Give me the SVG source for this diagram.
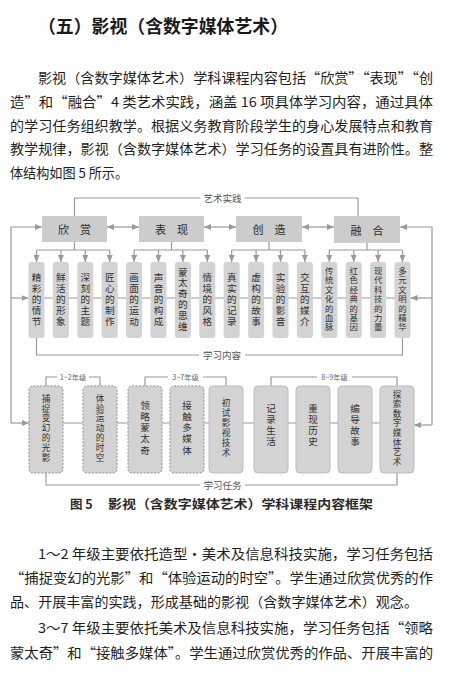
<svg xmlns="http://www.w3.org/2000/svg" width="468" height="682" viewBox="0 0 468 682">
<style>
.bg{fill:#ffffff}
.body{font-family:"Noto Sans CJK SC","Noto Sans",sans-serif;font-size:13.4px;fill:#1e1e1e;dominant-baseline:central}
.title{font-family:"Noto Sans CJK SC",sans-serif;font-size:18px;font-weight:bold;fill:#1a1a1a;dominant-baseline:central}
.cap{font-family:"Noto Sans CJK SC",sans-serif;font-size:12.5px;font-weight:bold;fill:#2a2a2a;dominant-baseline:central}
.cat rect{fill:#cccccc;stroke:none}
.cat text{font-family:"Noto Sans CJK SC",sans-serif;font-size:11px;fill:#2a2a2a;text-anchor:middle;dominant-baseline:central}
.item rect{fill:#d3d3d3;stroke:none}
.item text{font-family:"Liberation Sans","Noto Sans CJK SC",sans-serif;font-size:9.6px;fill:#2f2f2f;text-anchor:middle}
.item text.s{font-size:8.4px}
.task rect{fill:#d3d3d3;stroke:#bdbdbd;stroke-width:1}
.task.d rect{stroke:#8f8f8f;stroke-dasharray:2 1.5}
.task text{font-family:"Liberation Sans","Noto Sans CJK SC",sans-serif;font-size:9.6px;fill:#2f2f2f;text-anchor:middle}
.task text.s{font-size:8.6px}
.ln{fill:none;stroke:#9a9a9a;stroke-width:1.2}
.lab{font-family:"Noto Sans CJK SC",sans-serif;font-size:9.5px;fill:#555;text-anchor:middle;dominant-baseline:central}
.gl{font-family:"Noto Sans CJK SC",sans-serif;font-size:7.2px;fill:#666;text-anchor:middle;dominant-baseline:central}
</style>
<defs>
<marker id="ah" markerUnits="userSpaceOnUse" markerWidth="7" markerHeight="6" refX="7" refY="3" orient="auto-start-reverse">
<path d="M0,0 L7,3 L0,6 z" fill="#9a9a9a"/>
</marker>
</defs>
<rect class="bg" x="0" y="0" width="468" height="682"/>

<g id="text-top">
<text class="title" x="38" y="25" textLength="250" lengthAdjust="spacingAndGlyphs">（五）影视（含数字媒体艺术）</text>
<text class="body" x="38" y="77" textLength="395" lengthAdjust="spacingAndGlyphs">影视（含数字媒体艺术）学科课程内容包括“欣赏”“表现”“创</text>
<text class="body" x="10" y="101" textLength="423" lengthAdjust="spacingAndGlyphs">造”和“融合”4 类艺术实践，涵盖 16 项具体学习内容，通过具体</text>
<text class="body" x="10" y="125" textLength="423" lengthAdjust="spacingAndGlyphs">的学习任务组织教学。根据义务教育阶段学生的身心发展特点和教育</text>
<text class="body" x="10" y="148" textLength="423" lengthAdjust="spacingAndGlyphs">教学规律，影视（含数字媒体艺术）学习任务的设置具有进阶性。整</text>
<text class="body" x="10" y="172" textLength="118" lengthAdjust="spacingAndGlyphs">体结构如图 5 所示。</text>
</g>

<g id="connectors">
<path class="ln" d="M74.5,216 V198 H200"/>
<path class="ln" d="M245,198 H358 V216"/>
<path class="ln" d="M107,227 H139" marker-start="url(#ah)" marker-end="url(#ah)"/>
<path class="ln" d="M204,227 H236" marker-start="url(#ah)" marker-end="url(#ah)"/>
<path class="ln" d="M302,227 H334" marker-start="url(#ah)" marker-end="url(#ah)"/>
<path class="ln" d="M11,423 V227 H42" marker-end="url(#ah)"/>
<path class="ln" d="M11,298 H28.5" marker-end="url(#ah)"/>
<path class="ln" d="M11,423 H29" marker-end="url(#ah)"/>
<path class="ln" d="M432,425 V227 H400" marker-end="url(#ah)"/>
<path class="ln" d="M432,298 H410.5" marker-end="url(#ah)"/>
<path class="ln" d="M432,425 H414" marker-end="url(#ah)"/>
<path class="ln" d="M36,298 H403"/>
<path class="ln" d="M46,423 H397"/>
<path class="ln" d="M74.5,242 V250 M36.5,250 H109.7"/>
<path class="ln" d="M36.5,250 V262" marker-end="url(#ah)"/>
<path class="ln" d="M60.9,250 V262" marker-end="url(#ah)"/>
<path class="ln" d="M85.3,250 V262" marker-end="url(#ah)"/>
<path class="ln" d="M109.7,250 V262" marker-end="url(#ah)"/>
<path class="ln" d="M171.5,242 V250 M134.1,250 H207.3"/>
<path class="ln" d="M134.1,250 V262" marker-end="url(#ah)"/>
<path class="ln" d="M158.5,250 V262" marker-end="url(#ah)"/>
<path class="ln" d="M182.9,250 V262" marker-end="url(#ah)"/>
<path class="ln" d="M207.3,250 V262" marker-end="url(#ah)"/>
<path class="ln" d="M269,242 V250 M231.7,250 H304.9"/>
<path class="ln" d="M231.7,250 V262" marker-end="url(#ah)"/>
<path class="ln" d="M256.1,250 V262" marker-end="url(#ah)"/>
<path class="ln" d="M280.5,250 V262" marker-end="url(#ah)"/>
<path class="ln" d="M304.9,250 V262" marker-end="url(#ah)"/>
<path class="ln" d="M367,243 V250 M329.3,250 H402.5"/>
<path class="ln" d="M329.3,250 V262" marker-end="url(#ah)"/>
<path class="ln" d="M353.7,250 V262" marker-end="url(#ah)"/>
<path class="ln" d="M378.1,250 V262" marker-end="url(#ah)"/>
<path class="ln" d="M402.5,250 V262" marker-end="url(#ah)"/>
<path class="ln" d="M36.5,338 V355 H199"/>
<path class="ln" d="M245,355 H402.5 V338"/>
<path class="ln" d="M46,473 V485 H200"/>
<path class="ln" d="M245,485 H397 V473"/>
<path class="ln" d="M46,386 V377 H57 M89,377 H100 V386"/>
<path class="ln" d="M145,386 V377 H168 M203,377 H226 V386"/>
<path class="ln" d="M271,386 V377 H317 M352,377 H397 V386"/>
<text class="lab" x="222.5" y="198">艺术实践</text>
<text class="lab" x="222" y="355">学习内容</text>
<text class="lab" x="222.5" y="485">学习任务</text>
<text class="gl" x="73" y="377">1~2年级</text>
<text class="gl" x="185.5" y="377">3~7年级</text>
<text class="gl" x="334.5" y="377">8~9年级</text>
</g>

<g id="cat-xinshang" class="cat"><rect x="42" y="216" width="65" height="26"/><text x="74.5" y="229">欣　赏</text></g>
<g id="cat-biaoxian" class="cat"><rect x="139" y="216" width="65" height="26"/><text x="171.5" y="229">表　现</text></g>
<g id="cat-chuangzao" class="cat"><rect x="236" y="216" width="66" height="26"/><text x="269" y="229">创　造</text></g>
<g id="cat-ronghe" class="cat"><rect x="334" y="216" width="66" height="27"/><text x="367" y="229.5">融　合</text></g>

<g id="c1" class="item"><rect x="28.5" y="262" width="16" height="76" rx="3"/><text x="36.5" y="280.5"><tspan x="36.5">精</tspan><tspan x="36.5" dy="11">彩</tspan><tspan x="36.5" dy="11">的</tspan><tspan x="36.5" dy="11">情</tspan><tspan x="36.5" dy="11">节</tspan></text></g>
<g id="c2" class="item"><rect x="52.9" y="262" width="16" height="76" rx="3"/><text x="60.9" y="280.5"><tspan x="60.9">鲜</tspan><tspan x="60.9" dy="11">活</tspan><tspan x="60.9" dy="11">的</tspan><tspan x="60.9" dy="11">形</tspan><tspan x="60.9" dy="11">象</tspan></text></g>
<g id="c3" class="item"><rect x="77.3" y="262" width="16" height="76" rx="3"/><text x="85.3" y="280.5"><tspan x="85.3">深</tspan><tspan x="85.3" dy="11">刻</tspan><tspan x="85.3" dy="11">的</tspan><tspan x="85.3" dy="11">主</tspan><tspan x="85.3" dy="11">题</tspan></text></g>
<g id="c4" class="item"><rect x="101.7" y="262" width="16" height="76" rx="3"/><text x="109.7" y="280.5"><tspan x="109.7">匠</tspan><tspan x="109.7" dy="11">心</tspan><tspan x="109.7" dy="11">的</tspan><tspan x="109.7" dy="11">制</tspan><tspan x="109.7" dy="11">作</tspan></text></g>
<g id="c5" class="item"><rect x="126.1" y="262" width="16" height="76" rx="3"/><text x="134.1" y="280.5"><tspan x="134.1">画</tspan><tspan x="134.1" dy="11">面</tspan><tspan x="134.1" dy="11">的</tspan><tspan x="134.1" dy="11">运</tspan><tspan x="134.1" dy="11">动</tspan></text></g>
<g id="c6" class="item"><rect x="150.5" y="262" width="16" height="76" rx="3"/><text x="158.5" y="280.5"><tspan x="158.5">声</tspan><tspan x="158.5" dy="11">音</tspan><tspan x="158.5" dy="11">的</tspan><tspan x="158.5" dy="11">构</tspan><tspan x="158.5" dy="11">成</tspan></text></g>
<g id="c7" class="item"><rect x="174.9" y="262" width="16" height="76" rx="3"/><text x="182.9" y="275.5"><tspan x="182.9">蒙</tspan><tspan x="182.9" dy="10.8">太</tspan><tspan x="182.9" dy="10.8">奇</tspan><tspan x="182.9" dy="10.8">的</tspan><tspan x="182.9" dy="10.8">思</tspan><tspan x="182.9" dy="10.8">维</tspan></text></g>
<g id="c8" class="item"><rect x="199.3" y="262" width="16" height="76" rx="3"/><text x="207.3" y="280.5"><tspan x="207.3">情</tspan><tspan x="207.3" dy="11">境</tspan><tspan x="207.3" dy="11">的</tspan><tspan x="207.3" dy="11">风</tspan><tspan x="207.3" dy="11">格</tspan></text></g>
<g id="c9" class="item"><rect x="223.7" y="262" width="16" height="76" rx="3"/><text x="231.7" y="280.5"><tspan x="231.7">真</tspan><tspan x="231.7" dy="11">实</tspan><tspan x="231.7" dy="11">的</tspan><tspan x="231.7" dy="11">记</tspan><tspan x="231.7" dy="11">录</tspan></text></g>
<g id="c10" class="item"><rect x="248.1" y="262" width="16" height="76" rx="3"/><text x="256.1" y="280.5"><tspan x="256.1">虚</tspan><tspan x="256.1" dy="11">构</tspan><tspan x="256.1" dy="11">的</tspan><tspan x="256.1" dy="11">故</tspan><tspan x="256.1" dy="11">事</tspan></text></g>
<g id="c11" class="item"><rect x="272.5" y="262" width="16" height="76" rx="3"/><text x="280.5" y="280.5"><tspan x="280.5">实</tspan><tspan x="280.5" dy="11">验</tspan><tspan x="280.5" dy="11">的</tspan><tspan x="280.5" dy="11">影</tspan><tspan x="280.5" dy="11">音</tspan></text></g>
<g id="c12" class="item"><rect x="296.9" y="262" width="16" height="76" rx="3"/><text x="304.9" y="280.5"><tspan x="304.9">交</tspan><tspan x="304.9" dy="11">互</tspan><tspan x="304.9" dy="11">的</tspan><tspan x="304.9" dy="11">媒</tspan><tspan x="304.9" dy="11">介</tspan></text></g>
<g id="c13" class="item"><rect x="321.3" y="262" width="16" height="76" rx="3"/><text class="s" x="329.3" y="274"><tspan x="329.3">传</tspan><tspan x="329.3" dy="9.4">统</tspan><tspan x="329.3" dy="9.4">文</tspan><tspan x="329.3" dy="9.4">化</tspan><tspan x="329.3" dy="9.4">的</tspan><tspan x="329.3" dy="9.4">血</tspan><tspan x="329.3" dy="9.4">脉</tspan></text></g>
<g id="c14" class="item"><rect x="345.7" y="262" width="16" height="76" rx="3"/><text class="s" x="353.7" y="274"><tspan x="353.7">红</tspan><tspan x="353.7" dy="9.4">色</tspan><tspan x="353.7" dy="9.4">经</tspan><tspan x="353.7" dy="9.4">典</tspan><tspan x="353.7" dy="9.4">的</tspan><tspan x="353.7" dy="9.4">基</tspan><tspan x="353.7" dy="9.4">因</tspan></text></g>
<g id="c15" class="item"><rect x="370.1" y="262" width="16" height="76" rx="3"/><text class="s" x="378.1" y="274"><tspan x="378.1">现</tspan><tspan x="378.1" dy="9.4">代</tspan><tspan x="378.1" dy="9.4">科</tspan><tspan x="378.1" dy="9.4">技</tspan><tspan x="378.1" dy="9.4">的</tspan><tspan x="378.1" dy="9.4">力</tspan><tspan x="378.1" dy="9.4">量</tspan></text></g>
<g id="c16" class="item"><rect x="394.5" y="262" width="16" height="76" rx="3"/><text class="s" x="402.5" y="274"><tspan x="402.5">多</tspan><tspan x="402.5" dy="9.4">元</tspan><tspan x="402.5" dy="9.4">文</tspan><tspan x="402.5" dy="9.4">明</tspan><tspan x="402.5" dy="9.4">的</tspan><tspan x="402.5" dy="9.4">精</tspan><tspan x="402.5" dy="9.4">华</tspan></text></g>

<g id="t1" class="task d"><rect x="29" y="386" width="34" height="87" rx="4"/><text class="s" x="46" y="401.8"><tspan x="46">捕</tspan><tspan x="46" dy="9.8">捉</tspan><tspan x="46" dy="9.8">变</tspan><tspan x="46" dy="9.8">幻</tspan><tspan x="46" dy="9.8">的</tspan><tspan x="46" dy="9.8">光</tspan><tspan x="46" dy="9.8">影</tspan></text></g>
<g id="t2" class="task d"><rect x="83" y="386" width="34" height="87" rx="4"/><text class="s" x="100" y="401.8"><tspan x="100">体</tspan><tspan x="100" dy="9.8">验</tspan><tspan x="100" dy="9.8">运</tspan><tspan x="100" dy="9.8">动</tspan><tspan x="100" dy="9.8">的</tspan><tspan x="100" dy="9.8">时</tspan><tspan x="100" dy="9.8">空</tspan></text></g>
<g id="t3" class="task d"><rect x="128" y="386" width="34" height="87" rx="4"/><text x="145" y="408.5"><tspan x="145">领</tspan><tspan x="145" dy="11.3">略</tspan><tspan x="145" dy="11.3">蒙</tspan><tspan x="145" dy="11.3">太</tspan><tspan x="145" dy="11.3">奇</tspan></text></g>
<g id="t4" class="task d"><rect x="170" y="386" width="34" height="87" rx="4"/><text x="187" y="408.5"><tspan x="187">接</tspan><tspan x="187" dy="11.3">触</tspan><tspan x="187" dy="11.3">多</tspan><tspan x="187" dy="11.3">媒</tspan><tspan x="187" dy="11.3">体</tspan></text></g>
<g id="t5" class="task"><rect x="209" y="386" width="34" height="87" rx="4"/><text class="s" x="226" y="406"><tspan x="226">初</tspan><tspan x="226" dy="10">试</tspan><tspan x="226" dy="10">影</tspan><tspan x="226" dy="10">视</tspan><tspan x="226" dy="10">技</tspan><tspan x="226" dy="10">术</tspan></text></g>
<g id="t6" class="task"><rect x="254" y="386" width="34" height="87" rx="4"/><text x="271" y="411.5"><tspan x="271">记</tspan><tspan x="271" dy="11.3">录</tspan><tspan x="271" dy="11.3">生</tspan><tspan x="271" dy="11.3">活</tspan></text></g>
<g id="t7" class="task"><rect x="296" y="386" width="34" height="87" rx="4"/><text x="313" y="411.5"><tspan x="313">重</tspan><tspan x="313" dy="11.3">现</tspan><tspan x="313" dy="11.3">历</tspan><tspan x="313" dy="11.3">史</tspan></text></g>
<g id="t8" class="task"><rect x="338" y="386" width="34" height="87" rx="4"/><text x="355" y="411.5"><tspan x="355">编</tspan><tspan x="355" dy="11.3">导</tspan><tspan x="355" dy="11.3">故</tspan><tspan x="355" dy="11.3">事</tspan></text></g>
<g id="t9" class="task"><rect x="380" y="386" width="34" height="87" rx="4"/><text class="s" x="397" y="397.5"><tspan x="397">探</tspan><tspan x="397" dy="9.6">索</tspan><tspan x="397" dy="9.6">数</tspan><tspan x="397" dy="9.6">字</tspan><tspan x="397" dy="9.6">媒</tspan><tspan x="397" dy="9.6">体</tspan><tspan x="397" dy="9.6">艺</tspan><tspan x="397" dy="9.6">术</tspan></text></g>

<g id="caption">
<text class="cap" x="70" y="503">图 5</text>
<text class="cap" x="108" y="503" textLength="265" lengthAdjust="spacingAndGlyphs">影视（含数字媒体艺术）学科课程内容框架</text>
</g>

<g id="text-bottom">
<text class="body" x="38" y="553" textLength="395" lengthAdjust="spacingAndGlyphs">1～2 年级主要依托造型·美术及信息科技实施，学习任务包括</text>
<text class="body" x="10" y="577" textLength="423" lengthAdjust="spacingAndGlyphs">“捕捉变幻的光影”和“体验运动的时空”。学生通过欣赏优秀的作</text>
<text class="body" x="10" y="601" textLength="408" lengthAdjust="spacingAndGlyphs">品、开展丰富的实践，形成基础的影视（含数字媒体艺术）观念。</text>
<text class="body" x="38" y="627" textLength="395" lengthAdjust="spacingAndGlyphs">3～7 年级主要依托美术及信息科技实施，学习任务包括“领略</text>
<text class="body" x="10" y="652" textLength="423" lengthAdjust="spacingAndGlyphs">蒙太奇”和“接触多媒体”。学生通过欣赏优秀的作品、开展丰富的</text>
</g>
</svg>
